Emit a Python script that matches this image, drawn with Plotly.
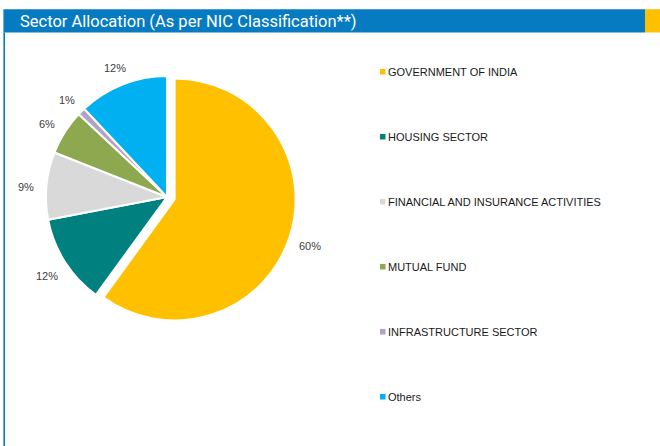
import math
import plotly.graph_objects as go

W, H = 660, 446

title_text = "Sector Allocation (As per NIC Classification**)"
sectors = [
    "GOVERNMENT OF INDIA",
    "HOUSING SECTOR",
    "FINANCIAL AND INSURANCE ACTIVITIES",
    "MUTUAL FUND",
    "INFRASTRUCTURE SECTOR",
    "Others",
]
weights = [60, 12, 9, 6, 1, 12]
colors = ["#FFC000", "#00807F", "#D9D9D9", "#8EA84F", "#B3A2C7", "#00B0F0"]
pulls = [0.066, 0, 0, 0, 0, 0]

BLUE = "#077BC2"
ORANGE = "#FFC000"


def px(x):
    return x / W


def py(y):
    return 1 - y / H


# pie geometry in pixels (centre of the un-pulled slices, radius)
cx, cy, r = 167, 197, 121
half = r * (1 + max(pulls))

fig = go.Figure(
    go.Pie(
        labels=sectors,
        values=weights,
        sort=False,
        direction="clockwise",
        rotation=0,
        pull=pulls,
        marker=dict(colors=colors, line=dict(color="white", width=2)),
        textinfo="none",
        hoverinfo="label+percent",
        showlegend=False,
        domain=dict(x=[px(cx - half), px(cx + half)], y=[py(cy + half), py(cy - half)]),
    )
)

annotations = []
shapes = []

# percentage labels placed just outside each slice
total = sum(weights)
cum = 0
for v, p in zip(weights, pulls):
    mid = (cum + v / 2) / total * 2 * math.pi
    cum += v
    dx, dy = math.sin(mid), -math.cos(mid)
    dist = r * p + r + 21
    annotations.append(dict(
        x=px(cx + dx * dist), y=py(cy + dy * dist + 3), xref="paper", yref="paper",
        text=f"{round(v / total * 100)}%", showarrow=False,
        xanchor="center", yanchor="middle",
        font=dict(family="Liberation Sans, Arial", size=11, color="#404040"),
    ))

# legend column on the right
leg_x, leg_y0, leg_step = 380, 71.7, 65
for i, (name, col) in enumerate(zip(sectors, colors)):
    yy = leg_y0 + i * leg_step
    shapes.append(dict(type="rect", xref="paper", yref="paper",
                       x0=px(leg_x), x1=px(leg_x + 5.5), y0=py(yy + 2.8), y1=py(yy - 2.8),
                       fillcolor=col, line=dict(width=0)))
    annotations.append(dict(
        x=px(leg_x + 6), y=py(yy), xref="paper", yref="paper",
        text=name, showarrow=False, xanchor="left", yanchor="middle",
        font=dict(family="Liberation Sans, Arial", size=11, color="#1A1A1A"),
    ))

# header band, accent block and left frame line
shapes += [
    dict(type="rect", xref="paper", yref="paper", x0=px(3.4), x1=px(645), y0=py(32.5), y1=py(9.2),
         fillcolor=BLUE, line=dict(width=0), layer="below"),
    dict(type="rect", xref="paper", yref="paper", x0=px(645), x1=px(660), y0=py(32.5), y1=py(9.2),
         fillcolor=ORANGE, line=dict(width=0), layer="below"),
    dict(type="rect", xref="paper", yref="paper", x0=px(3.4), x1=px(5), y0=py(446), y1=py(32.5),
         fillcolor=BLUE, line=dict(width=0), layer="below"),
]
annotations.append(dict(
    x=px(18), y=py(21), xref="paper", yref="paper", text=title_text, showarrow=False,
    xanchor="left", yanchor="middle",
    font=dict(family="Roboto", size=16.5, color="white"),
))

fig.update_layout(
    width=W, height=H,
    margin=dict(l=0, r=0, t=0, b=0),
    paper_bgcolor="white", plot_bgcolor="white",
    shapes=shapes, annotations=annotations,
    showlegend=False,
)

fig.write_html("out.html")
